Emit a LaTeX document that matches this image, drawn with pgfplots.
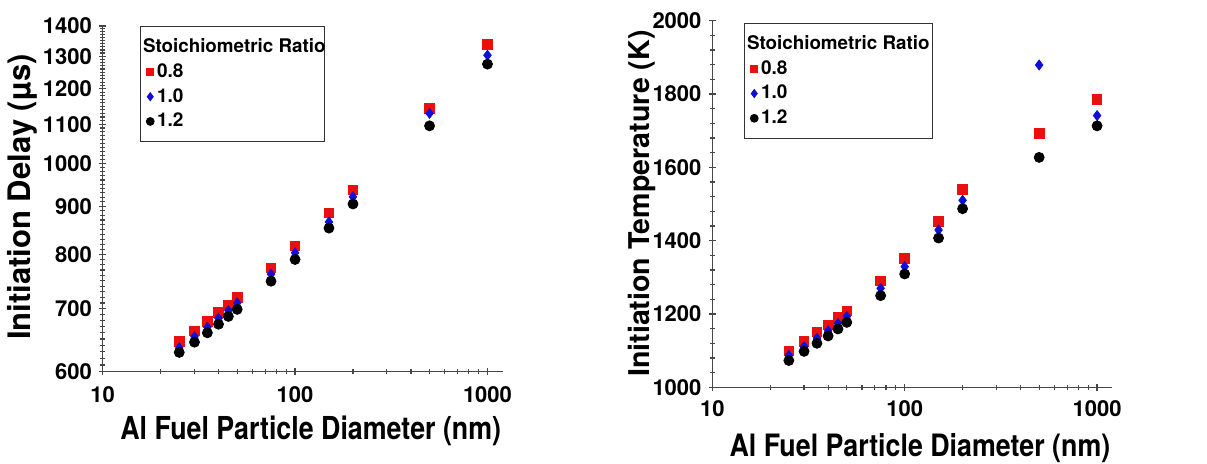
\documentclass[border=0pt]{standalone}
\usepackage{fontspec}
\setmainfont{TeX Gyre Heros}
\usepackage{pgfplots}
\pgfplotsset{compat=1.18}
\definecolor{mred}{RGB}{235,15,15}
\definecolor{mblue}{RGB}{15,15,215}
\definecolor{axgray}{RGB}{70,70,70}
\pgfplotsset{legend image code/.code={\draw[#1, every mark/.append style={scale=0.75}] plot coordinates {(0cm,0cm)};}}
\begin{document}
\begin{tikzpicture}
\useasboundingbox (0,0) rectangle (603.5pt,231.5pt);
\begin{axis}[
  scale only axis, width=200pt, height=172.85pt,
  at={(51.35pt,45.65pt)}, anchor=south west,
  xmode=log, xmin=10, xmax=1200,
  xtick={10,100,1000}, xticklabels={10,100,1000},
  minor xtick={20,30,40,50,60,70,80,90,200,300,400,500,600,700,800,900},
  ymode=log, ymin=600, ymax=1400,
  ytick={600,700,800,900,1000,1100,1200,1300,1400},
  yticklabels={600,700,800,900,1000,1100,1200,1300,1400},
  minor ytick={610,620,...,1390},
  axis x line=bottom, axis y line=left,
  axis line style={-, draw=axgray, line width=0.6pt},
  major tick style={draw=axgray, line width=0.6pt},
  minor tick style={draw=axgray, line width=0.6pt},
  major tick length=-3.8pt, minor tick length=-2.4pt,
  ticklabel style={font=\bfseries\fontsize{11}{12}\selectfont},
  xticklabel style={yshift=-5.8pt},
  yticklabel style={xshift=-3.8pt},
  xlabel={\scalebox{1}[1.18]{Al Fuel Particle Diameter (nm)}},
  ylabel={Initiation Delay (µs)},
  xlabel style={font=\bfseries\fontsize{13.4}{16}\selectfont, anchor=center, at={(axis description cs:0.52,-0.17)}},
  ylabel style={font=\bfseries\fontsize{15.5}{18}\selectfont, anchor=center, at={(axis description cs:-0.202,0.505)}},
  legend cell align=left,
  legend style={draw=black!80, line width=0.6pt, font=\bfseries\fontsize{9.5}{11}\selectfont,
    inner xsep=3pt, inner ysep=4pt, row sep=0pt, column sep=0pt, anchor=north west, at={(axis description cs:0.093,1.0)},
    nodes={inner xsep=1.5pt}},
]
\addlegendimage{empty legend}
\addlegendentry{\hspace*{-7pt}\fontsize{9.4}{11}\selectfont Stoichiometric Ratio\hspace*{-5pt}}
\addplot[only marks, mark=square*, mark size=2.4pt, color=mred] coordinates {(25,646)(30,663)(35,679)(40,694)(45,707)(50,720)(75,774)(100,817)(150,885)(200,937)(500,1144)(1000,1339)};
\addlegendentry{0.8}
\addplot[only marks, mark=diamond*, mark size=2.5pt, color=mblue] coordinates {(25,636)(30,654)(35,669)(40,684)(45,697)(50,710)(75,762)(100,803)(150,866)(200,921)(500,1130)(1000,1303)};
\addlegendentry{1.0}
\addplot[only marks, mark=*, mark size=2.5pt, color=black] coordinates {(25,629)(30,645)(35,660)(40,674)(45,687)(50,699)(75,749)(100,790)(150,853)(200,905)(500,1096)(1000,1275)};
\addlegendentry{1.2}
\end{axis}
\begin{axis}[
  scale only axis, width=200pt, height=183.35pt,
  at={(356.15pt,37.85pt)}, anchor=south west,
  xmode=log, xmin=10, xmax=1200,
  xtick={10,100,1000}, xticklabels={10,100,1000},
  minor xtick={20,30,40,50,60,70,80,90,200,300,400,500,600,700,800,900},
  ymin=1000, ymax=2000,
  ytick={1000,1200,1400,1600,1800,2000},
  yticklabels={1000,1200,1400,1600,1800,2000},
  minor ytick={1040,1080,...,1960},
  axis x line=bottom, axis y line=left,
  axis line style={-, draw=axgray, line width=0.6pt},
  major tick style={draw=axgray, line width=0.6pt},
  minor tick style={draw=axgray, line width=0.6pt},
  major tick length=-3.8pt, minor tick length=-2.4pt,
  ticklabel style={font=\bfseries\fontsize{11}{12}\selectfont},
  xticklabel style={yshift=-4.8pt},
  yticklabel style={xshift=-3.8pt},
  xlabel={\scalebox{1}[1.15]{Al Fuel Particle Diameter (nm)}},
  ylabel={Initiation Temperature (K)},
  xlabel style={font=\bfseries\fontsize{13.4}{16}\selectfont, anchor=center, at={(axis description cs:0.519,-0.165)}},
  ylabel style={font=\bfseries\fontsize{14.3}{17}\selectfont, anchor=center, at={(axis description cs:-0.1765,0.501)}},
  legend cell align=left,
  legend style={draw=black!80, line width=0.6pt, font=\bfseries\fontsize{9.5}{11}\selectfont,
    inner xsep=3pt, inner ysep=4pt, row sep=0pt, column sep=0pt, anchor=north west, at={(axis description cs:0.079,0.994)},
    nodes={inner xsep=1.5pt}},
]
\addlegendimage{empty legend}
\addlegendentry{\hspace*{-7pt}\fontsize{9.4}{11}\selectfont Stoichiometric Ratio\hspace*{-3pt}}
\addplot[only marks, mark=square*, mark size=2.4pt, color=mred] coordinates {(25,1099)(30,1126)(35,1151)(40,1170)(45,1190)(50,1208)(75,1290)(100,1352)(150,1453)(200,1540)(500,1693)(1000,1785)};
\addlegendentry{0.8}
\addplot[only marks, mark=diamond*, mark size=2.5pt, color=mblue] coordinates {(25,1087)(30,1111)(35,1134)(40,1154)(45,1174)(50,1193)(75,1270)(100,1329)(150,1429)(200,1510)(500,1879)(1000,1741)};
\addlegendentry{1.0}
\addplot[only marks, mark=*, mark size=2.5pt, color=black] coordinates {(25,1073)(30,1098)(35,1120)(40,1140)(45,1159)(50,1177)(75,1250)(100,1309)(150,1407)(200,1487)(500,1627)(1000,1713)};
\addlegendentry{1.2}
\end{axis}
\end{tikzpicture}
\end{document}
